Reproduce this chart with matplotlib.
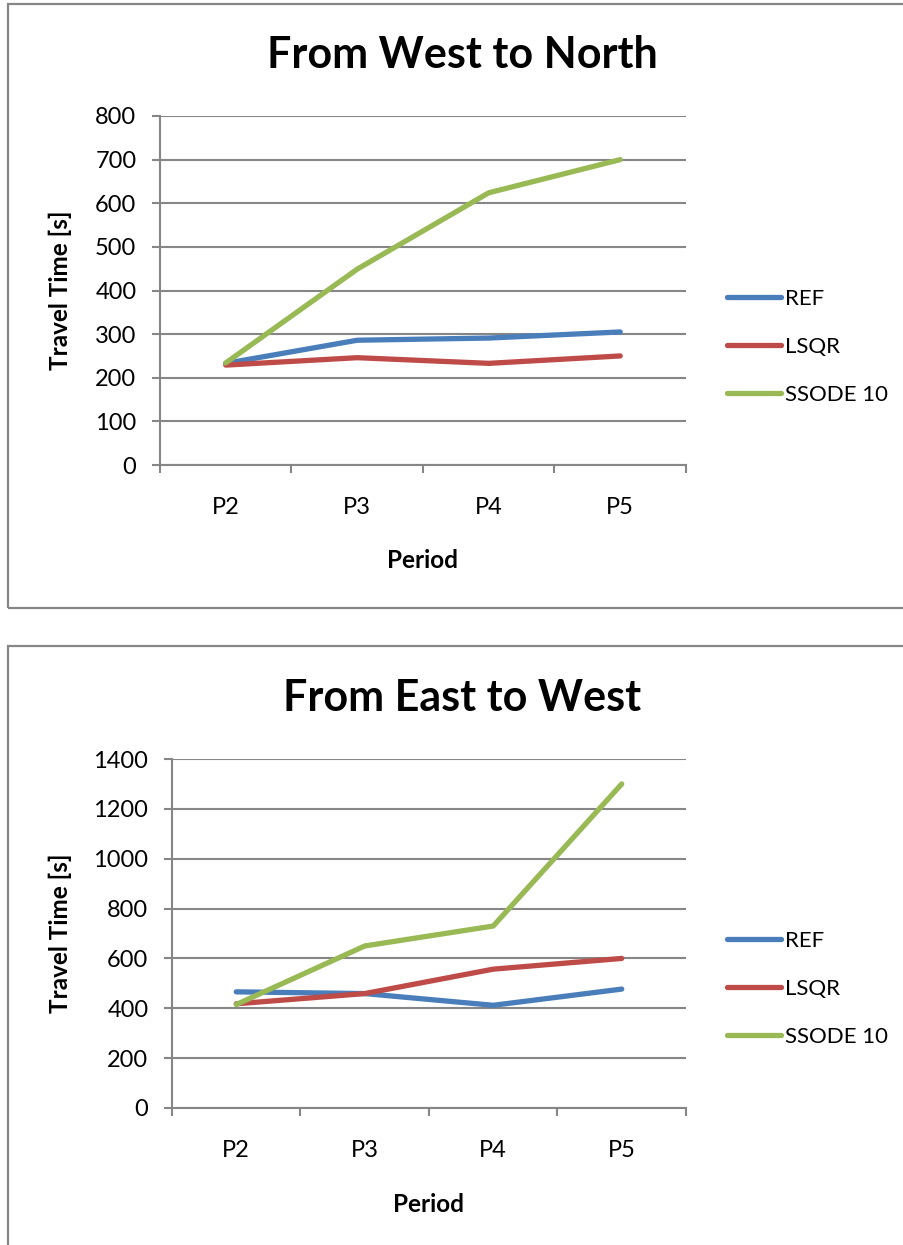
import matplotlib
matplotlib.use("Agg")
import matplotlib.pyplot as plt
from matplotlib.patches import Rectangle

plt.rcParams['font.family'] = ['Lato', 'DejaVu Sans']

periods = ["P2", "P3", "P4", "P5"]
series_names = ["REF", "LSQR", "SSODE 10"]
colors = ["#4A7EBB", "#BE4B48", "#98B954"]

# From West to North
wn_ref = [233, 286, 291, 305]
wn_lsqr = [229, 246, 233, 250]
wn_ssode = [234, 449, 624, 700]

# From East to West
ew_ref = [466, 459, 412, 477]
ew_lsqr = [418, 459, 557, 600]
ew_ssode = [415, 650, 730, 1300]

W, H = 904, 1245
fig = plt.figure(figsize=(W / 100, H / 100), dpi=100)

GRID = "#868686"


def fx(px):
    return px / W


def fy(py):
    return 1 - py / H


def panel(box, ax_px, title, title_y, data, ymax, ystep, ylabel_x, legend_y):
    x0, y0, x1, y1 = box
    fig.patches.append(Rectangle((fx(x0), fy(y1)), fx(x1 - x0), (y1 - y0) / H,
                                 transform=fig.transFigure, fill=False,
                                 edgecolor=GRID, linewidth=1.6, zorder=0))
    l, t, r, b = ax_px
    ax = fig.add_axes([fx(l), fy(b), fx(r - l), (b - t) / H])
    xs = range(len(periods))
    lines = []
    for vals, name, c in zip(data, series_names, colors):
        ln, = ax.plot(xs, vals, color=c, linewidth=3.8, solid_capstyle='round',
                      solid_joinstyle='round', label=name, zorder=3)
        lines.append(ln)
    ax.set_xlim(-0.5, len(periods) - 0.5)
    ax.set_ylim(0, ymax)
    ax.set_yticks(range(0, ymax + 1, ystep))
    ax.yaxis.grid(True, color=GRID, linewidth=1.5)
    ax.set_axisbelow(True)
    ax.set_xticks([i - 0.5 for i in range(len(periods) + 1)])
    ax.set_xticklabels([])
    ax.set_xticks(list(xs), minor=True)
    ax.set_xticklabels(periods, minor=True)
    ax.tick_params(axis='x', which='major', length=6, width=1.5, color=GRID, direction='out')
    ax.tick_params(axis='x', which='minor', length=0, pad=23, labelsize=17)
    ax.tick_params(axis='y', length=6, width=1.5, color=GRID, pad=11, labelsize=17)
    for s in ("top", "right"):
        ax.spines[s].set_visible(False)
    for s in ("left", "bottom"):
        ax.spines[s].set_color(GRID)
        ax.spines[s].set_linewidth(1.5)
    fig.text(fx(462), fy(title_y), title, ha='center', va='center',
             fontsize=31, fontweight='bold')
    fig.text(fx(ylabel_x), fy((t + b) / 2), "Travel Time [s]", rotation=90,
             ha='center', va='center', fontsize=17.5, fontweight='bold')
    fig.text(fx((l + r) / 2), fy(b + 96), "Period", ha='center', va='center',
             fontsize=17.5, fontweight='bold')
    fig.legend(handles=lines, loc='center left',
               bbox_to_anchor=(fx(707), fy(legend_y)), frameon=False,
               fontsize=16, handlelength=2.45, handletextpad=0.18,
               labelspacing=1.25)
    return ax


panel((8, 4, 940, 608), (160, 116, 686, 465), "From West to North", 55,
      [wn_ref, wn_lsqr, wn_ssode], 800, 100, 60, 347)
panel((8, 646, 940, 1290), (172, 759, 686, 1108), "From East to West", 698,
      [ew_ref, ew_lsqr, ew_ssode], 1400, 200, 60, 989)

fig.savefig("out.png", dpi=100)
